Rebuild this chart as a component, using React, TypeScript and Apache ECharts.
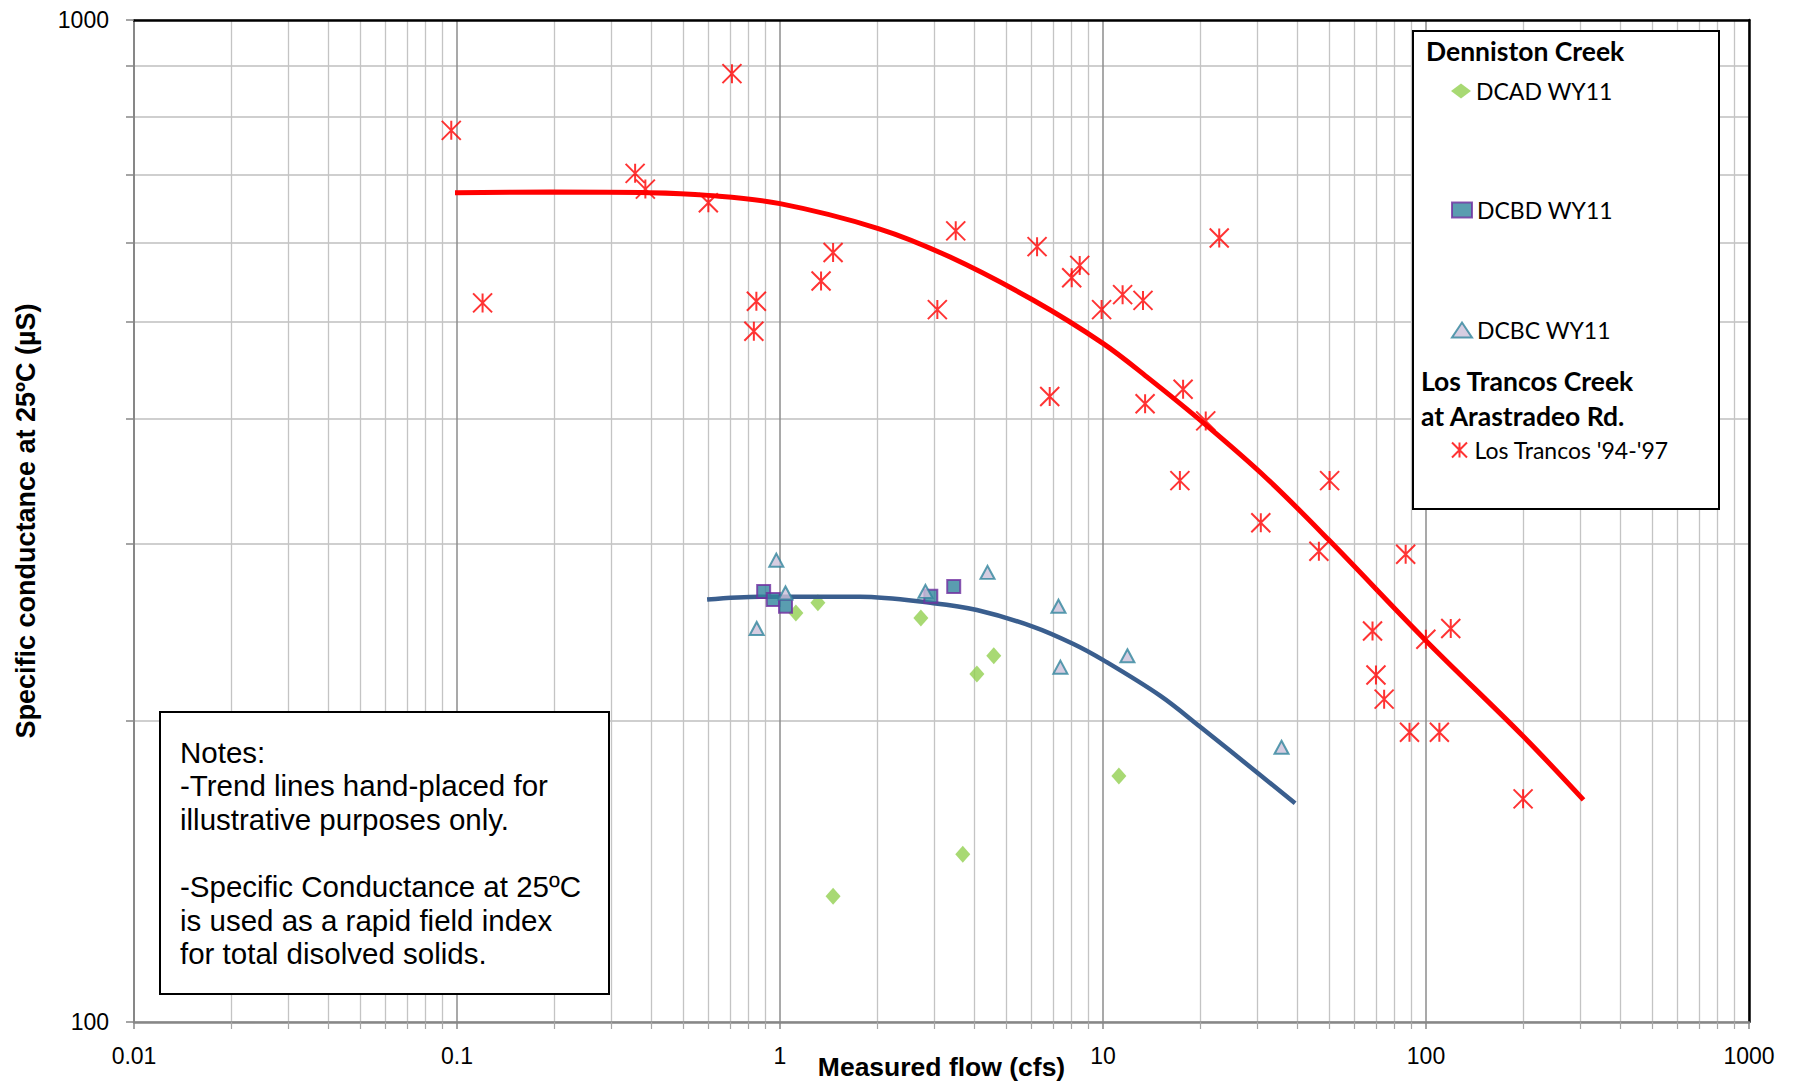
import React, { useEffect, useRef } from 'react';
import * as echarts from 'echarts';

// ---- Data (flow in cfs, specific conductance in µS) ----
const dcadFlow = [1.12, 1.31, 2.73, 4.07, 4.59, 11.2, 3.68, 1.46];
const dcadCond = [256, 262, 253, 222.5, 232, 176, 147, 133.5];

const dcbdFlow = [0.89, 0.953, 1.04, 2.93, 3.45];
const dcbdCond = [269, 264, 260, 266, 272];

const dcbcFlow = [0.974, 1.04, 0.847, 2.82, 4.39, 7.28, 7.38, 11.9, 35.7];
const dcbcCond = [289, 268, 247, 269, 281, 260, 226, 232, 188];

const ltFlow = [0.096, 0.12, 0.71, 0.356, 0.383, 0.6, 0.845, 0.83, 1.34, 1.46, 3.07, 3.5, 6.25, 6.84, 8.0, 8.47, 9.9, 11.5, 13.3, 13.5, 22.9, 17.7, 20.8, 17.3, 30.8, 50.3, 46.6, 86.5, 68.3, 99.9, 119.3, 70, 74.2, 88.9, 110, 199.8];
const ltCond = [776, 522, 884, 703, 678, 657, 524, 489, 549, 586, 514, 616, 594, 421, 553, 569, 514, 532, 525, 414, 606, 428, 398, 347, 315, 347, 295, 293, 245.6, 241, 247, 222, 210, 194.6, 194.6, 167];

// hand-placed trend lines
const ltTrendFlow = [0.0986, 0.194, 0.395, 0.6, 1.0, 2.016, 3.363, 6.09, 10.02, 13.67, 20.69, 32.14, 49.89, 99.43, 200.3, 307.3];
const ltTrendCond = [672.5, 673.4, 672.5, 668.3, 655.8, 619.3, 580, 525.2, 475.4, 440.4, 395.0, 348.7, 303, 240.6, 192.7, 166.6];

const dcTrendFlow = [0.5947, 0.8674, 1.769, 2.985, 4.069, 6.09, 8.099, 10.02, 15.02, 19.98, 30.66, 39.33];
const dcTrendCond = [264, 265.7, 265.7, 261.8, 257.7, 248.0, 238.4, 229.7, 211.7, 197.1, 176.4, 165.3];

const xTickValues = [0.01, 0.1, 1, 10, 100, 1000];
const xTickLabels = ['0.01', '0.1', '1', '10', '100', '1000'];
const yTickValues = [100, 1000];
const yTickLabels = ['100', '1000'];

const seriesNames = ['DCAD WY11', 'DCBD WY11', 'DCBC WY11', "Los Trancos '94-'97"];
const notesText = 'Notes:\n-Trend lines hand-placed for\nillustrative purposes only.\n\n-Specific Conductance at 25ºC\nis used as a rapid field index\nfor total disolved solids.';

const zip = (a: number[], b: number[]) => a.map((v, i) => [v, b[i]]);

const fmt = (vals: number[], labels: string[]) => (v: number) => {
  const i = vals.findIndex((t) => Math.abs(Math.log10(t) - Math.log10(v)) < 1e-6);
  return i >= 0 ? labels[i] : '';
};

const FONT = '"Liberation Sans", Arial, sans-serif';
const LEG_FONT = 'Lato, "Open Sans", sans-serif';

function buildOption(): any {
  const legendItem = (name: string, top: number) => ({
    data: [name],
    left: 1451,
    top,
    orient: 'vertical',
    padding: 0,
    itemGap: 0,
    itemWidth: 20,
    itemHeight: 15,
    selectedMode: false,
    z: 20,
    textStyle: { fontFamily: LEG_FONT, fontSize: 23, color: '#000', lineHeight: 28 },
  });

  return {
    animation: false,
    backgroundColor: '#fff',
    textStyle: { fontFamily: FONT },
    grid: { left: 134, right: 48, top: 20, bottom: 62, containLabel: false, outerBoundsMode: 'none' },
    xAxis: [
      {
        type: 'log',
        logBase: 10,
        min: 0.01,
        max: 1000,
        position: 'bottom',
        axisLine: { show: true, lineStyle: { color: '#878787', width: 2.5 } },
        axisTick: { show: true, inside: false, length: 7, lineStyle: { color: '#878787', width: 1.5 } },
        minorTick: { show: true, splitNumber: 9, length: 7, lineStyle: { color: '#A6A6A6', width: 1.2 } },
        axisLabel: {
          show: true,
          margin: 22,
          fontSize: 23,
          color: '#000',
          fontFamily: FONT,
          formatter: fmt(xTickValues, xTickLabels),
        },
        splitLine: { show: true, lineStyle: { color: '#8C8C8C', width: 1.5 } },
        minorSplitLine: { show: true, lineStyle: { color: '#C4C4C4', width: 1.3 } },
        name: 'Measured flow (cfs)',
        nameLocation: 'middle',
        nameGap: 31,
        nameMoveOverlap: false,
        nameTextStyle: { fontSize: 26.5, fontWeight: 'bold', color: '#000', fontFamily: FONT },
      },
      {
        type: 'log',
        logBase: 10,
        min: 0.01,
        max: 1000,
        position: 'top',
        axisLine: { show: true, lineStyle: { color: '#000', width: 2.5 } },
        axisTick: { show: false },
        axisLabel: { show: false },
        splitLine: { show: false },
      },
    ],
    yAxis: [
      {
        type: 'log',
        logBase: 10,
        min: 100,
        max: 1000,
        position: 'left',
        axisLine: { show: true, lineStyle: { color: '#878787', width: 2 } },
        axisTick: { show: true, inside: false, length: 8, lineStyle: { color: '#878787', width: 1.5 } },
        minorTick: { show: true, splitNumber: 9, length: 8, lineStyle: { color: '#878787', width: 1.5 } },
        axisLabel: {
          show: true,
          margin: 25,
          fontSize: 23,
          color: '#000',
          fontFamily: FONT,
          formatter: fmt(yTickValues, yTickLabels),
        },
        splitLine: { show: true, lineStyle: { color: '#BFBFBF', width: 1.6 } },
        minorSplitLine: { show: true, lineStyle: { color: '#BFBFBF', width: 1.6 } },
        name: 'Specific conductance at 25ºC (µS)',
        nameLocation: 'middle',
        nameRotate: 90,
        nameGap: 95,
        nameTextStyle: { fontSize: 27, fontWeight: 'bold', color: '#000', fontFamily: FONT },
      },
      {
        type: 'log',
        logBase: 10,
        min: 100,
        max: 1000,
        position: 'right',
        axisLine: { show: true, lineStyle: { color: '#000', width: 2.5 } },
        axisTick: { show: false },
        axisLabel: { show: false },
        splitLine: { show: false },
      },
    ],
    legend: [
      legendItem(seriesNames[0], 77),
      legendItem(seriesNames[1], 196),
      legendItem(seriesNames[2], 316),
      legendItem(seriesNames[3], 436),
    ],
    graphic: {
      elements: [
        {
          type: 'rect',
          z: 10,
          shape: { x: 1413, y: 31, width: 306, height: 478 },
          style: { fill: '#fff', stroke: '#000', lineWidth: 2 },
        },
        {
          type: 'text',
          z: 15,
          x: 1426,
          y: 51,
          style: { text: 'Denniston Creek', fontFamily: LEG_FONT, fontSize: 26.5, fontWeight: 'bold', fill: '#000', textVerticalAlign: 'middle' },
        },
        {
          type: 'text',
          z: 15,
          x: 1421,
          y: 381,
          style: { text: 'Los Trancos Creek', fontFamily: LEG_FONT, fontSize: 26.5, fontWeight: 'bold', fill: '#000', textVerticalAlign: 'middle' },
        },
        {
          type: 'text',
          z: 15,
          x: 1421,
          y: 416,
          style: { text: 'at Arastradeo Rd.', fontFamily: LEG_FONT, fontSize: 26.5, fontWeight: 'bold', fill: '#000', textVerticalAlign: 'middle' },
        },
        {
          type: 'rect',
          z: 10,
          shape: { x: 160, y: 712, width: 449, height: 282 },
          style: { fill: '#fff', stroke: '#000', lineWidth: 2 },
        },
        {
          type: 'text',
          z: 15,
          x: 180,
          y: 735.5,
          style: { text: notesText, fontFamily: FONT, fontSize: 29.5, lineHeight: 33.6, fill: '#000', textVerticalAlign: 'top' },
        },
      ],
    },
    series: [
      {
        name: 'Los Trancos trend',
        type: 'line',
        xAxisIndex: 0,
        yAxisIndex: 0,
        data: zip(ltTrendFlow, ltTrendCond),
        showSymbol: false,
        symbol: 'none',
        smooth: 0.35,
        z: 3,
        lineStyle: { color: '#FF0000', width: 5 },
        silent: true,
      },
      {
        name: 'Denniston trend',
        type: 'line',
        xAxisIndex: 0,
        yAxisIndex: 0,
        data: zip(dcTrendFlow, dcTrendCond),
        showSymbol: false,
        symbol: 'none',
        smooth: 0.35,
        z: 3,
        lineStyle: { color: '#3A5E8E', width: 4.5 },
        silent: true,
      },
      {
        name: seriesNames[0],
        type: 'scatter',
        data: zip(dcadFlow, dcadCond),
        symbol: 'diamond',
        symbolSize: [15, 17],
        z: 2,
        itemStyle: { color: '#92D050' },
      },
      {
        name: seriesNames[1],
        type: 'scatter',
        data: zip(dcbdFlow, dcbdCond),
        symbol: 'rect',
        symbolSize: 13,
        z: 4,
        itemStyle: { color: '#31859C', borderColor: '#7030A0', borderWidth: 2 },
      },
      {
        name: seriesNames[2],
        type: 'scatter',
        data: zip(dcbcFlow, dcbcCond),
        symbol: 'triangle',
        symbolSize: [14, 13],
        z: 4,
        itemStyle: { color: '#CCC0DA', borderColor: '#31859C', borderWidth: 2 },
      },
      {
        name: seriesNames[3],
        type: 'scatter',
        data: zip(ltFlow, ltCond),
        symbol: 'path://M0,0L10,10M10,0L0,10M5,0L5,10',
        symbolSize: 19,
        z: 5,
        itemStyle: { color: 'rgba(255,0,0,0)', borderColor: '#FF0000', borderWidth: 2 },
      },
    ],
  };
}

export default function App() {
  const ref = useRef<HTMLDivElement>(null);
  useEffect(() => {
    document.body.style.margin = '0';
    const chart = echarts.init(ref.current as HTMLDivElement, null, { renderer: 'svg' });
    chart.setOption(buildOption());
    return () => chart.dispose();
  }, []);
  return <div ref={ref} style={{ width: 1797, height: 1084 }} />;
}
